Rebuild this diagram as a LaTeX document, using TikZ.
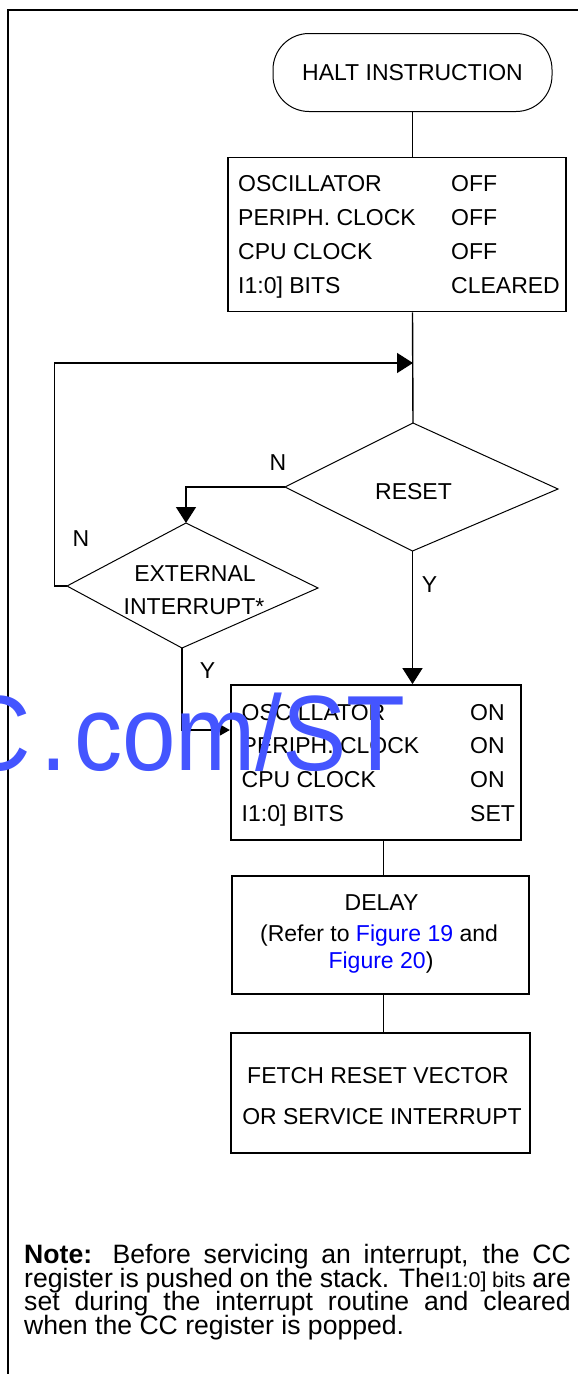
\documentclass[tikz,border=0pt]{standalone}
\usepackage{fontspec}
\setmainfont{Liberation Sans}
\usetikzlibrary{arrows.meta}
\definecolor{wmblue}{RGB}{68,85,255}
\definecolor{linkblue}{RGB}{0,0,255}
\tikzset{txt/.style={font=\fontsize{23}{27}\selectfont,inner sep=0pt},
 notetxt/.style={font=\fontsize{26.6}{24}\selectfont,inner sep=0pt,anchor=base west},
 box/.style={draw=black,line width=1.8pt,inner sep=0pt},
 line/.style={line width=1.4pt},
 decision/.style={line width=1pt},
 arrow/.style={line width=1.4pt,-{Triangle[length=16pt,width=20pt]}},
 smallarrow/.style={line width=1.4pt,-{Triangle[length=10pt,width=11pt]}}}
\begin{document}
\begin{tikzpicture}[x=1pt,y=-1pt]
 \useasboundingbox (0,0) rectangle (578,1374);
 \draw[line width=2pt] (578,10) -- (8,10) -- (8,1374);
 % start
 \node[draw,line width=1pt,rounded corners=36pt,minimum width=279pt,minimum height=78pt,txt] (halt) at (412.5,72.5) {HALT INSTRUCTION};
 % clocks off
 \node[box,minimum width=338pt,minimum height=154pt] (off) at (397,234.5) {};
 \foreach \lab/\val [count=\i] in {OSCILLATOR/OFF,PERIPH. CLOCK/OFF,CPU CLOCK/OFF,I1:0] BITS/CLEARED}{
  \node[txt,anchor=base west] (off-l\i) at (238,157.5+34*\i) {\lab};
  \node[txt,anchor=base west] (off-r\i) at (451,157.5+34*\i) {\val};
 }
 % decisions
 \coordinate (rst-t) at (413,423); \coordinate (rst-r) at (558,489);
 \coordinate (rst-b) at (412.5,551); \coordinate (rst-l) at (285,487);
 \draw[decision] (rst-t) -- (rst-r) -- (rst-b) -- (rst-l) -- cycle;
 \node[txt,anchor=base] (rst) at (413.5,499) {RESET};
 \coordinate (ext-t) at (186,523); \coordinate (ext-r) at (318,588);
 \coordinate (ext-b) at (182,648); \coordinate (ext-l) at (67,586);
 \draw[decision] (ext-t) -- (ext-r) -- (ext-b) -- (ext-l) -- cycle;
 \node[txt,anchor=base] (ext-1) at (195,581.6) {EXTERNAL};
 \node[txt,anchor=base] (ext-2) at (194,614.3) {INTERRUPT*};
 % clocks on
 \node[box,minimum width=290pt,minimum height=155pt] (on) at (375.75,762.5) {};
 \foreach \lab/\val [count=\i] in {OSCILLATOR/ON,PERIPH. CLOCK/ON,CPU CLOCK/ON,I1:0] BITS/SET}{
  \node[txt,anchor=base west] (on-l\i) at (241.5,686.2+33.8*\i) {\lab};
  \node[txt,anchor=base west] (on-r\i) at (470,686.2+33.8*\i) {\val};
 }
 \node[box,minimum width=297pt,minimum height=118.6pt] (delay) at (380.4,935) {};
 \node[txt,anchor=base] (delay-1) at (381.5,910) {DELAY};
 \node[txt,anchor=base] (delay-2) at (379,941.5) {(Refer to \textcolor{linkblue}{Figure 19} and};
 \node[txt,anchor=base] (delay-3) at (381,968) {\textcolor{linkblue}{Figure 20})};
 \node[box,minimum width=299.3pt,minimum height=120pt] (fetch) at (380.35,1093.3) {};
 \node[txt,anchor=base] (fetch-1) at (378,1083.3) {FETCH RESET VECTOR};
 \node[txt,anchor=base] (fetch-2) at (382,1124.3) {OR SERVICE INTERRUPT};
 % connectors
 \coordinate (join) at (413,363);
 \coordinate (loop) at (54.5,363);
 \coordinate (ext-j) at (182,730);
 \coordinate (spine) at (383.3,0);
 \draw[line] (halt.south) -- (halt.south |- off.north);
 \draw[line] (halt.south |- off.south) -- (rst-t);
 \draw[arrow] (ext-l) -| (loop) -- (join);
 \draw[arrow] (rst-l) -| (ext-t);
 \draw[arrow] (rst-b) -- (rst-b |- on.north);
 \draw[smallarrow] (ext-b) |- (on.west |- ext-j);
 \draw[line] (on.south -| spine) -- (delay.north -| spine);
 \draw[line] (delay.south -| spine) -- (fetch.north -| spine);
 \node[txt] (n-rst) at (278,463) {N};
 \node[txt] (n-ext) at (81,539) {N};
 \node[txt] (y-rst) at (429.5,585) {Y};
 \node[txt] (y-ext) at (207.5,671) {Y};
 % note
 \node[notetxt] (note-1) at (24,1263.3) {\makebox[546.6pt][s]{\textbf{Note:} Before servicing an interrupt, the CC}};
 \node[notetxt] (note-2) at (24,1287) {\makebox[546.6pt][s]{register is pushed on the stack. The{\fontsize{21.5}{24}\selectfont I1:0] bits} are}};
 \node[notetxt] (note-3) at (24,1310.7) {\makebox[546.6pt][s]{set during the interrupt routine and cleared}};
 \node[notetxt] (note-4) at (24,1334.4) {when the CC register is popped.};
 % watermark
 \node[anchor=base east,inner sep=0pt,text=wmblue,font=\fontsize{107}{107}\selectfont] (wm) at (406,770) {\scalebox{0.9}[1]{C\kern10pt.\kern8pt com/ST}};
\end{tikzpicture}
\end{document}
